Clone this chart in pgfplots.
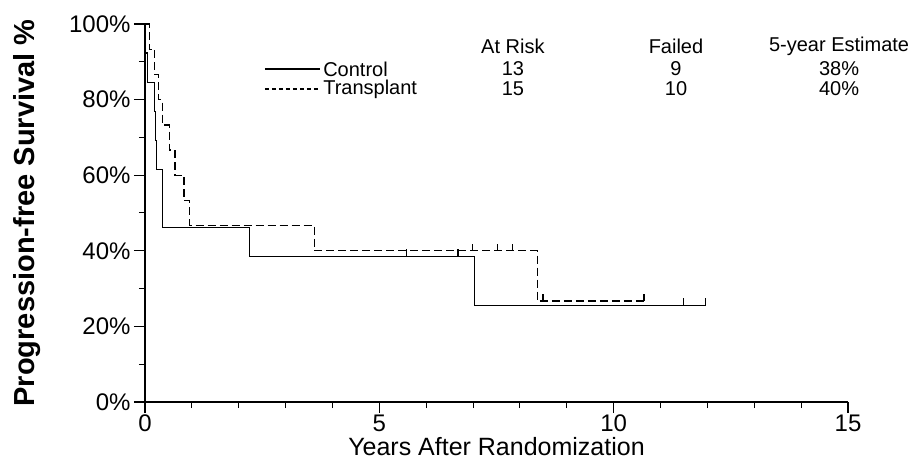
\documentclass[border=0pt]{standalone}
\usepackage{pgfplots}
\pgfplotsset{compat=1.18}
\usepackage{fontspec}
\setmainfont{Liberation Sans}
\pgfdeclareplotmark{cens}{%
  \pgfpathmoveto{\pgfqpoint{0pt}{0pt}}%
  \pgfpathlineto{\pgfqpoint{0pt}{7pt}}%
  \pgfusepathqstroke}
\begin{document}
\begin{tikzpicture}
\useasboundingbox (-145pt,-64pt) rectangle (776pt,402pt);
\begin{axis}[
  at={(0,0)}, anchor=south west,
  scale only axis, width=703pt, height=378pt,
  xmin=0, xmax=15, ymin=0, ymax=100,
  axis x line=bottom, axis y line=left,
  axis line style={-, line width=1.6pt},
  clip=false,
  xtick={0,5,10,15}, minor x tick num=4,
  ytick={0,20,40,60,80,100}, minor y tick num=1,
  tick align=outside,
  major tick length=11pt, minor tick length=6pt,
  every major tick/.append style={line width=1.2pt, black},
  every minor tick/.append style={line width=1pt, black},
  /pgf/number format/assume math mode=true,
  tick label style={font=\fontsize{24}{28}\selectfont},
  x tick label style={inner sep=1pt, yshift=-1pt},
  yticklabel={\pgfmathprintnumber{\tick}\%},
  xlabel={Years After Randomization},
  xlabel style={font=\fontsize{25}{28}\selectfont, at={(axis description cs:0.5,0)}, anchor=north, inner sep=1pt, yshift=-34pt},
  ylabel={\bfseries Progression-free Survival \%},
  ylabel style={font=\fontsize{29}{32}\selectfont, yshift=22pt},
]
% Control (solid)
\addplot[const plot, black, line width=1.3pt] coordinates {
 (0,100) (0.01,92.3) (0.05,84.6) (0.21,76.9) (0.23,69.2) (0.25,61.5)
 (0.37,46.2) (2.23,38.5) (7.03,25.6) (11.96,25.6)};
% Transplant (dashed)
\addplot[const plot, black, line width=1.3pt, dash pattern=on 8pt off 4pt] coordinates {
 (0,100) (0.09,93.3) (0.21,86.7) (0.29,80) (0.37,73.3) (0.52,66.7)
 (0.64,60) (0.83,53.3) (0.95,46.7) (3.61,40) (8.37,26.7) (10.65,26.7)};
% censor marks
\addplot[only marks, mark=cens, mark options={solid, line width=1.3pt}, black] coordinates {
 (5.58,38.5) (6.68,38.5) (11.49,25.6) (11.96,25.6)};
\addplot[only marks, mark=cens, mark options={solid, line width=1.3pt}, black] coordinates {
 (6.99,40) (7.52,40) (7.84,40) (8.49,26.7) (10.65,26.7)};
% legend
\draw[black, line width=1.2pt] (axis cs:2.56,88.1) -- (axis cs:3.73,88.1);
\draw[black, line width=1.2pt, dash pattern=on 4pt off 3pt] (axis cs:2.56,82.8) -- (axis cs:3.73,82.8);
\begin{scope}[every node/.style={font=\fontsize{20}{22}\selectfont, inner sep=0pt}]
\node[anchor=west] at (axis cs:3.80,88.1) {Control};
\node[anchor=west] at (axis cs:3.80,82.8) {Transplant};
\node at (axis cs:7.85,94.2) {At Risk};
\node at (axis cs:11.33,94.2) {Failed};
\node at (axis cs:14.81,94.2) {5-year Estimate};
\node at (axis cs:7.85,88.1) {13};
\node at (axis cs:11.33,88.1) {9};
\node at (axis cs:14.81,88.1) {38\%};
\node at (axis cs:7.85,82.8) {15};
\node at (axis cs:11.33,82.8) {10};
\node at (axis cs:14.81,82.8) {40\%};
\end{scope}
\end{axis}
\end{tikzpicture}
\end{document}
